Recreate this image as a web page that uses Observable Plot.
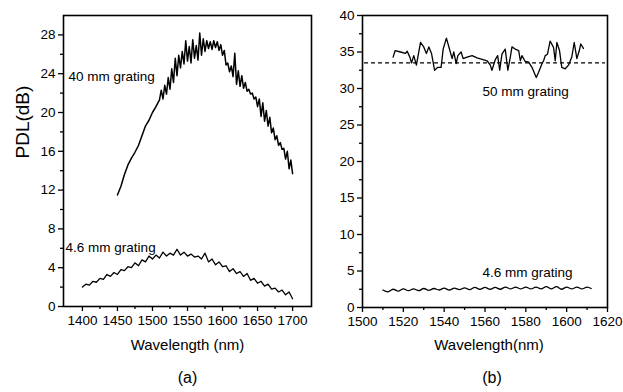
<!DOCTYPE html>
<html>
<head>
<meta charset="utf-8">
<script src="https://cdn.jsdelivr.net/npm/d3@7"></script>
<script src="https://cdn.jsdelivr.net/npm/@observablehq/plot@0.6"></script>
<style>
  html, body { margin: 0; padding: 0; background: white; }
  #wrap { display: flex; width: 623px; height: 392px; overflow: hidden; }
  #wrap svg { display: block; }
</style>
</head>
<body>
<div id="wrap"></div>
<script>
// ---------- Panel (a) data ----------
const wl40 = [1450,1455,1460,1465,1470,1475,1480,1485,1490,1495,1500,1505,1510,
  1512.5,1515,1517.5,1520,1522.5,1525,1527.5,1530,1532.5,1535,1537.5,1540,1542.5,1545,1547.5,1550,
  1552.5,1555,1557.5,1560,1562.5,1565,1567.5,1570,1572.5,1575,1577.5,1580,1582.5,1585,1587.5,1590,
  1592.5,1595,1597.5,1600,1602.5,1605,1607.5,1610,1612.5,1615,1617.5,1620,1622.5,1625,1627.5,1630,
  1632.5,1635,1637.5,1640,1642.5,1645,1647.5,1650,1652.5,1655,1657.5,1660,1662.5,1665,1667.5,1670,
  1672.5,1675,1677.5,1680,1682.5,1685,1687.5,1690,1692.5,1695,1697.5,1700];
const pdl40 = [11.5,12.4,13.6,14.6,15.3,15.9,16.6,17.6,18.6,19.2,20.0,20.6,21.3,
  22.3,21.4,22.8,21.9,23.6,22.4,24.5,23.1,25.6,23.8,
  25.9,24.6,26.3,25.0,27.4,25.3,26.8,25.1,27.5,25.6,
  26.9,25.4,28.2,25.9,27.6,26.3,27.4,26.6,27.3,26.5,
  27.4,26.7,27.3,26.4,27.0,25.9,26.4,24.9,25.1,24.2,
  24.8,23.7,26.1,22.9,24.3,22.7,23.8,22.5,23.1,22.2,
  22.4,21.9,22.0,21.4,21.6,20.6,21.4,19.6,21.0,19.1,
  20.2,18.6,19.5,17.9,18.4,17.2,17.6,16.6,16.9,16.2,
  16.3,15.2,16.0,14.2,15.1,13.7];

const wl46a = [1400,1405,1410,1415,1420,1425,1430,1435,1440,1445,1450,1455,1460,1465,1470,1475,
  1480,1485,1490,1495,1500,1505,1510,1515,1520,1525,1530,1535,1540,1545,1550,1555,1560,1565,1570,
  1575,1580,1585,1590,1595,1600,1605,1610,1615,1620,1625,1630,1635,1640,1645,1650,1655,1660,1665,
  1670,1675,1680,1685,1690,1695,1700];
const pdl46a = [2.0,2.3,2.2,2.6,2.5,2.9,2.8,3.3,3.1,3.5,
  3.3,3.8,3.7,4.1,4.0,4.5,4.2,4.8,4.6,5.2,
  4.9,5.3,5.0,5.6,5.2,5.5,5.3,5.9,5.3,5.6,
  5.2,5.4,5.1,5.2,4.9,5.5,4.6,4.9,4.3,4.6,
  4.1,4.2,3.6,3.9,3.4,3.6,3.1,3.4,2.7,2.9,
  2.4,2.6,2.1,2.3,1.8,1.9,1.5,1.7,1.2,1.5,0.8];

const labelTextA = ["40 mm grating", "4.6 mm grating"];
const labelXA = [1380, 1376];
const labelYA = [23.7, 6.1];

const xTicksA = [1400,1450,1500,1550,1600,1650,1700];
const xMinorA = [1425,1475,1525,1575,1625,1675];
const yTicksA = [0,4,8,12,16,20,24,28];
const yMinorA = [2,6,10,14,18,22,26];

// ---------- Panel (b) data ----------
const wl50 = [1515,1516,1518.6,1521,1521.9,1523.2,1524,1525.1,1526.4,1528.4,
  1530,1531.3,1532.5,1533.8,1535.3,1536.9,1538.5,1539.5,1541.1,1542.8,
  1543.9,1544.7,1545.9,1546.7,1548.3,1549.3,1551.2,1553.7,1556.1,1558.6,
  1561,1562.6,1563.4,1565.1,1566.2,1567.2,1568.3,1569.9,1571.2,1572.4,
  1573.2,1574.8,1576.5,1577.3,1578.1,1579.7,1581.4,1583,1585.1,1586.2,
  1587.9,1588.7,1589.5,1590.6,1591.9,1593.6,1594.4,1595.2,1596.5,1597.6,
  1599.3,1600.9,1602.5,1603.7,1605,1606.2,1606.9,1608.2];
const pdl50 = [34.3,35.2,35.0,34.8,35.1,34.3,33.5,34.5,33.2,36.3,
  35.7,34.8,35.7,34.8,32.5,32.9,32.9,35.4,36.9,35.2,
  34.1,35.0,33.4,34.5,35.0,34.1,34.3,34.5,34.2,34.0,
  33.8,33.2,32.5,34.0,34.5,32.5,34.7,35.4,32.5,34.3,
  35.7,35.4,35.2,33.8,34.5,33.7,33.6,32.9,31.5,32.2,
  33.4,33.8,34.5,34.7,36.5,35.6,33.8,36.3,35.2,32.9,
  32.7,33.2,34.3,36.3,34.1,35.2,36.1,35.5];

const wl46b = [1510,1512.5,1515,1517.5,1520,1522.5,1525,1527.5,1530,1532.5,1535,1537.5,1540,
  1542.5,1545,1547.5,1550,1552.5,1555,1557.5,1560,1562.5,1565,1567.5,1570,1572.5,1575,1577.5,
  1580,1582.5,1585,1587.5,1590,1592.5,1595,1597.5,1600,1602.5,1605,1607.5,1610,1612];
const pdl46b = [2.4,2.15,2.5,2.25,2.55,2.3,2.55,2.3,2.6,2.35,2.6,2.4,2.65,2.4,2.65,2.45,
  2.7,2.45,2.75,2.5,2.75,2.5,2.75,2.5,2.8,2.55,2.8,2.55,2.8,2.55,2.8,2.55,2.85,2.55,
  2.85,2.5,2.8,2.55,2.8,2.55,2.8,2.6];

const dashRefB = [33.5];

const labelTextB = ["50 mm grating", "4.6 mm grating"];
const labelXB = [1558.8, 1558.8];
const labelYB = [29.5, 4.8];

const xTicksB = [1500,1520,1540,1560,1580,1600,1620];
const xMinorB = [1510,1530,1550,1570,1590,1610];
const yTicksB = [0,5,10,15,20,25,30,35,40];
const yMinorB = [2.5,7.5,12.5,17.5,22.5,27.5,32.5,37.5];

// ---------- helpers ----------
const zip = (xs, ys) => xs.map((x, i) => ({x, y: ys[i]}));
const font = "'Liberation Sans', Arial, Helvetica, sans-serif";
const baseStyle = {fontFamily: font, fontSize: "13.5px", color: "black", background: "white"};

function axes(xT, xM, yT, yM) {
  return [
    Plot.axisX(xT, {tickSize: 5, tickPadding: 4, tickFormat: d => String(d), label: null, strokeWidth: 1.3}),
    Plot.axisX(xM, {tickSize: 3, tickFormat: () => "", label: null, strokeWidth: 1.3}),
    Plot.axisY(yT, {tickSize: 5, tickPadding: 3, tickFormat: d => String(d), label: null, strokeWidth: 1.3}),
    Plot.axisY(yM, {tickSize: 3, tickFormat: () => "", label: null, strokeWidth: 1.3})
  ];
}

const plotA = Plot.plot({
  width: 320, height: 392,
  marginLeft: 63, marginRight: 9, marginTop: 15, marginBottom: 86,
  x: {domain: [1373, 1727]},
  y: {domain: [0, 30]},
  style: baseStyle,
  marks: [
    ...axes(xTicksA, xMinorA, yTicksA, yMinorA),
    Plot.line(zip(wl40, pdl40), {x: "x", y: "y", stroke: "black", strokeWidth: 1.5}),
    Plot.line(zip(wl46a, pdl46a), {x: "x", y: "y", stroke: "black", strokeWidth: 1.3}),
    Plot.text(labelTextA, {x: (d, i) => labelXA[i], y: (d, i) => labelYA[i], text: d => d,
      textAnchor: "start", fontSize: 13.5, fill: "black"}),
    Plot.frame({stroke: "black", strokeWidth: 1.6}),
    Plot.text(["PDL(dB)"], {frameAnchor: "left", dx: -41, dy: -2.5, rotate: -90, text: d => d,
      fontSize: 19, fill: "black"}),
    Plot.text(["Wavelength (nm)"], {frameAnchor: "bottom", dy: 43, text: d => d, fontSize: 15, fill: "black"}),
    Plot.text(["(a)"], {frameAnchor: "bottom", dy: 76, text: d => d, fontSize: 16, fill: "black"})
  ]
});

const plotB = Plot.plot({
  width: 303, height: 392,
  marginLeft: 42, marginRight: 16, marginTop: 15, marginBottom: 85,
  x: {domain: [1500, 1620]},
  y: {domain: [0, 40]},
  style: baseStyle,
  marks: [
    ...axes(xTicksB, xMinorB, yTicksB, yMinorB),
    Plot.ruleY(dashRefB, {x1: 1501, x2: 1619, stroke: "black", strokeWidth: 1.2, strokeDasharray: "4,3"}),
    Plot.line(zip(wl50, pdl50), {x: "x", y: "y", stroke: "black", strokeWidth: 1.3}),
    Plot.line(zip(wl46b, pdl46b), {x: "x", y: "y", stroke: "black", strokeWidth: 1.3, curve: "catmull-rom"}),
    Plot.text(labelTextB, {x: (d, i) => labelXB[i], y: (d, i) => labelYB[i], text: d => d,
      textAnchor: "start", fontSize: 13.5, fill: "black"}),
    Plot.frame({stroke: "black", strokeWidth: 1.6}),
    Plot.text(["Wavelength(nm)"], {frameAnchor: "bottom", dx: 4, dy: 42, text: d => d, fontSize: 15, fill: "black"}),
    Plot.text(["(b)"], {frameAnchor: "bottom", dx: 7, dy: 75, text: d => d, fontSize: 16, fill: "black"})
  ]
});

document.getElementById("wrap").append(plotA, plotB);
</script>
</body>
</html>
